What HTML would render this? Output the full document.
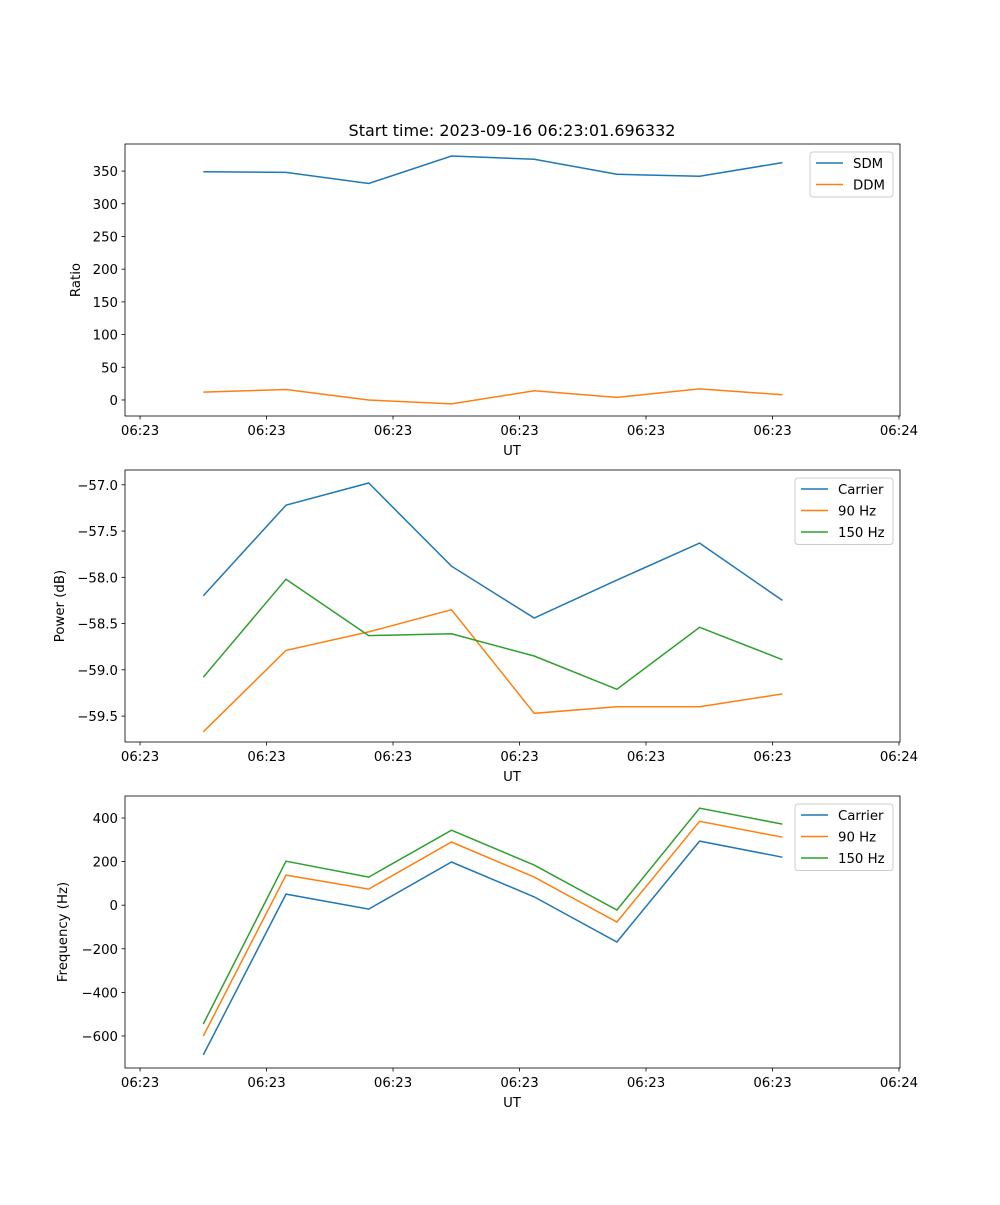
<!DOCTYPE html>
<html><head><meta charset="utf-8"><style>
body{margin:0;background:#fff}
svg text{font-family:"DejaVu Sans","Liberation Sans",sans-serif;fill:#000}
</style></head><body>
<svg id="fig" width="1000" height="1200" xmlns="http://www.w3.org/2000/svg">
<rect width="1000" height="1200" fill="#fff"/>
<text x="512" y="136" font-size="16" text-anchor="middle">Start time: 2023-09-16 06:23:01.696332</text>
</svg>
<script>
const times=[5.0,11.54,18.08,24.62,31.16,37.7,44.24,50.78];
const xTicks=[0,10,20,30,40,50,60];
const xTickLabels=["06:23","06:23","06:23","06:23","06:23","06:23","06:24"];
const sdm=[349,348,331,373,368,345,342,363];
const ddm=[12,16,0,-6,14,4,17,8];
const pwrCarrier=[-58.2,-57.22,-56.98,-57.88,-58.44,-58.03,-57.63,-58.25];
const pwr90=[-59.67,-58.79,-58.59,-58.35,-59.47,-59.4,-59.4,-59.26];
const pwr150=[-59.08,-58.02,-58.63,-58.61,-58.85,-59.21,-58.54,-58.89];
const frqCarrier=[-687,51,-18,198,38,-169,294,220];
const frq90=[-600,138,74,290,129,-77,385,312];
const frq150=[-545,202,129,344,184,-22,445,372];
const ratioTicks=[0,50,100,150,200,250,300,350];
const powerTicks=[-59.5,-59.0,-58.5,-58.0,-57.5,-57.0];
const freqTicks=[-600,-400,-200,0,200,400];

const NS="http://www.w3.org/2000/svg";
const svg=document.getElementById('fig');
function mk(tag,attrs,parent){const e=document.createElementNS(NS,tag);for(const k in attrs)e.setAttribute(k,attrs[k]);(parent||svg).appendChild(e);return e;}
const X0=125,X1=900,xmin=-1.19,xmax=60.08;
const sx=v=>X0+(v-xmin)/(xmax-xmin)*(X1-X0);
const C=['#1f77b4','#ff7f0e','#2ca02c'];
const FS=13.3;
function fmt(v,d){return (v<0?'\u2212':'')+Math.abs(v).toFixed(d);}

function panel(name,top,ymin,ymax,yticks,dec,ylabel,ylabX,series,names,leg){
  const bot=top+272;
  const sy=v=>bot-(v-ymin)/(ymax-ymin)*272;
  const g=mk('g',{});
  
  
  series.forEach((s,i)=>{
    const p=mk('polyline',{points:s.map((v,j)=>sx(times[j]).toFixed(1)+','+sy(v).toFixed(1)).join(' '),fill:'none',stroke:C[i],'stroke-width':1.5},g);
    
    
  });
  const fr=mk('rect',{x:X0,y:top,width:X1-X0,height:272,fill:'none',stroke:'#000','stroke-width':0.8},g);
  
  
  xTicks.forEach((t,i)=>{const x=sx(t);
    mk('line',{x1:x,x2:x,y1:bot,y2:bot+3.5,stroke:'#000','stroke-width':0.8},g);
    const tx=mk('text',{x:x,y:bot+19,'font-size':FS,'text-anchor':'middle'},g);tx.textContent=xTickLabels[i];
    
    
  });
  yticks.forEach(t=>{const y=sy(t);
    mk('line',{x1:X0,x2:X0-3.5,y1:y,y2:y,stroke:'#000','stroke-width':0.8},g);
    const tx=mk('text',{x:X0-7,y:y+5,'font-size':FS,'text-anchor':'end'},g);tx.textContent=fmt(t,dec);
    
    
  });
  const xl=mk('text',{x:512,y:bot+39,'font-size':FS,'text-anchor':'middle'},g);xl.textContent='UT';
  
  
  const yl=mk('text',{x:ylabX,y:top+136,'font-size':FS,'text-anchor':'middle',transform:`rotate(-90 ${ylabX} ${top+136})`},g);yl.textContent=ylabel;
  
  
  const lg=mk('g',{},g);
  
  
  mk('rect',{x:leg,y:top+8,width:893-leg,height:names.length*21.5+2,rx:3,fill:'#fff','fill-opacity':0.8,stroke:'#ccc'},lg);
  names.forEach((n,i)=>{const y=top+19+i*21.5;
    mk('line',{x1:leg+6,x2:leg+33,y1:y,y2:y,stroke:C[i],'stroke-width':1.5},lg);
    const t=mk('text',{x:leg+43,y:y+5,'font-size':FS},lg);t.textContent=n;
    
    
  });
}
panel('ratio',144,-24.5,391.4,ratioTicks,0,'Ratio',80,[sdm,ddm],['SDM','DDM'],810);
panel('power',470,-59.78,-56.84,powerTicks,1,'Power (dB)',64,[pwrCarrier,pwr90,pwr150],['Carrier','90 Hz','150 Hz'],795);
panel('frequency',796,-747,501,freqTicks,0,'Frequency (Hz)',67,[frqCarrier,frq90,frq150],['Carrier','90 Hz','150 Hz'],795);
</script>
</body></html>
